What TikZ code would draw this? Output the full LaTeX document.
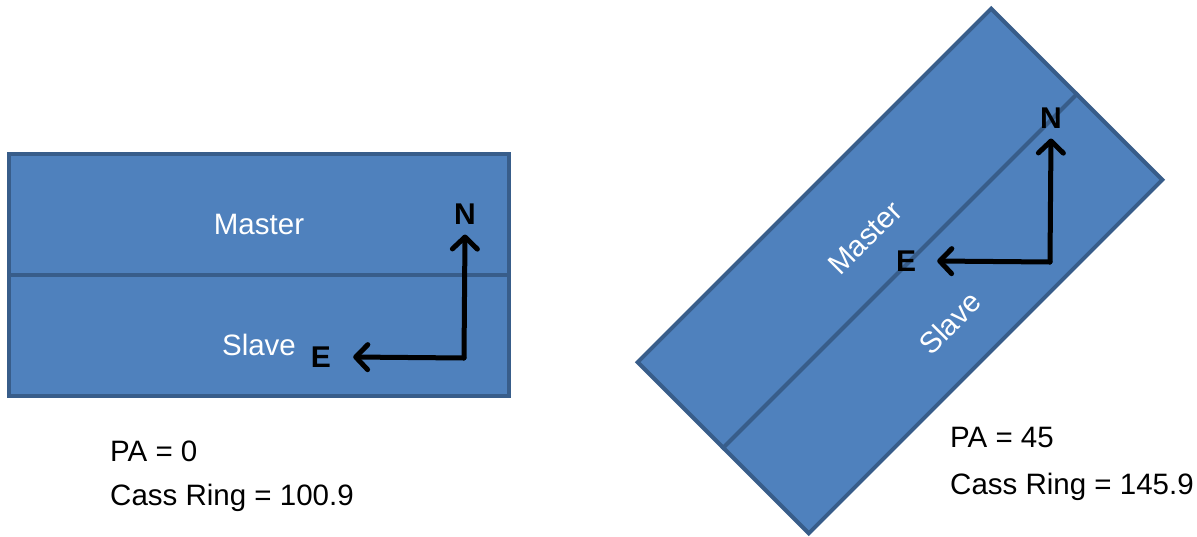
\documentclass[tikz,border=0pt]{standalone}
\usepackage{fontspec}
\setmainfont{Liberation Sans}
\usetikzlibrary{arrows.meta}
\definecolor{panelfill}{HTML}{4F81BD}
\definecolor{paneledge}{HTML}{385D8A}
\begin{document}
\begin{tikzpicture}[x=1pt,y=-1pt,
  panel/.style={draw=paneledge, fill=panelfill, line width=4pt, inner sep=0pt,
    minimum width=500pt, minimum height=242pt},
  divider/.style={draw=paneledge, line width=4pt},
  halflabel/.style={text=white, font=\fontsize{29.5}{34}\selectfont, inner sep=0pt},
  dirlabel/.style={text=black, font=\fontsize{30}{34}\selectfont\bfseries, inner sep=0pt},
  compass/.style={line width=5pt, line cap=round, line join=round,
    -{Straight Barb[length=12pt,width=25pt,line cap=round,line join=round]}},
  caption/.style={text=black, font=\fontsize{29.5}{34}\selectfont, inner sep=0pt, anchor=west}]
\useasboundingbox (0,0) rectangle (1197,536);

% left panel, PA = 0
\node[panel] (L) at (259,275) {};
\draw[divider] (L.west) -- (L.east);
\node[halflabel] (Lm) at (259,224) {Master};
\node[halflabel] (Ls) at (259,345) {Slave};
\coordinate (Lc) at (464,358);
\node[dirlabel] (LN) at (465,214) {N};
\node[dirlabel] (LE) at (321,357) {E};
\draw[compass] (Lc) -- ([yshift=-10pt]LN.south);
\draw[compass] (Lc) -- ([xshift=22pt]LE.east);
\node[caption] (Lpa) at (110,451) {PA = 0};
\node[caption] (Lcr) at (110,498) {Cass Ring = 100.9};

% right panel, PA = 45
\node[panel, rotate=45] (R) at (900,271) {};
\draw[divider] (R.west) -- (R.east);
\node[halflabel, rotate=45] (Rm) at (865,238) {Master};
\node[halflabel, rotate=45] (Rs) at (950,323) {Slave};
\coordinate (Rc) at (1050,262);
\node[dirlabel] (RN) at (1051,118) {N};
\node[dirlabel] (RE) at (906,261) {E};
\draw[compass] (Rc) -- ([yshift=-10pt]RN.south);
\draw[compass] (Rc) -- ([xshift=21pt]RE.east);
\node[caption] (Rpa) at (950,437) {PA = 45};
\node[caption] (Rcr) at (950,487) {Cass Ring = 145.9};
\end{tikzpicture}
\end{document}
